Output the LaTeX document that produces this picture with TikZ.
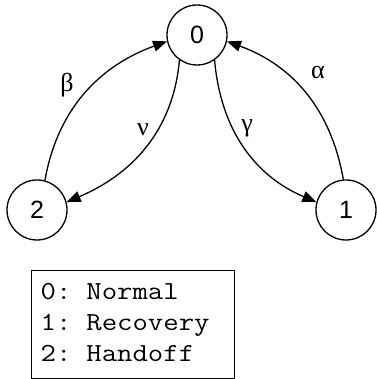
\documentclass[tikz,border=0pt]{standalone}
\usepackage{fontspec}
\setmainfont{Liberation Sans}
\newfontfamily\greekfont{Liberation Serif}
\usetikzlibrary{arrows.meta}
\begin{document}
\begin{tikzpicture}[x=1pt,y=1pt,
  state/.style={circle,draw,line width=1.3pt,minimum size=60pt,inner sep=0pt,font=\fontsize{25}{30}\selectfont},
  trans/.style={line width=1.3pt,-{Triangle[length=14pt,width=11pt]}},
  lbl/.style={font=\greekfont\fontsize{26}{30}\selectfont,inner sep=0pt},
  legendbox/.style={draw,line width=1.3pt,align=left,font=\ttfamily\fontsize{26}{31}\selectfont,
    text width=185pt,inner xsep=9pt,minimum height=108pt,anchor=north west}]
\useasboundingbox (0,0) rectangle (376,379);
\node[state] (n0) at (197,344) {0};
\node[state] (n2) at (37,169) {2};
\node[state] (n1) at (346,169) {1};
\draw[trans] (n2.75) to[out=80,in=200] (n0.192);
\draw[trans] (n0.235) to[out=265,in=23] (n2.15);
\draw[trans] (n0.305) to[out=275,in=157] (n1.165);
\draw[trans] (n1.95) to[out=100,in=340] (n0.348);
\node[lbl] (lb) at (67,294) {β};
\node[lbl] (ln) at (143,249) {ν};
\node[lbl] (lg) at (247,251) {γ};
\node[lbl] (la) at (318,306) {α};
\node[legendbox] (leg) at (31,109) {\scalebox{1.15}[1]{\begin{tabular}{@{}l@{}}0: Normal\\1: Recovery\\2: Handoff\end{tabular}}};
\end{tikzpicture}
\end{document}
